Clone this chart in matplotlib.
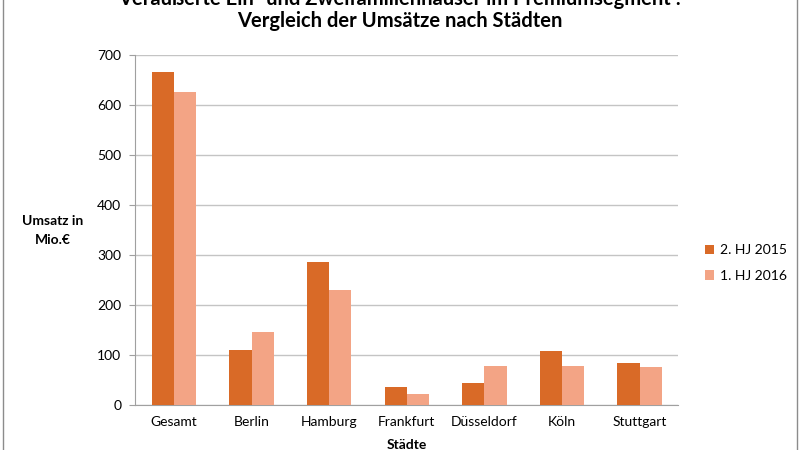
import matplotlib.pyplot as plt
import numpy as np
from matplotlib.patches import Rectangle

plt.rcParams['font.family'] = ['Lato', 'DejaVu Sans']

staedte = ['Gesamt', 'Berlin', 'Hamburg', 'Frankfurt', 'Düsseldorf', 'Köln', 'Stuttgart']
hj_2015 = [665, 110, 285, 35, 43, 107, 83]
hj_2016 = [625, 146, 229, 22, 77, 77, 75]
serien = ['2. HJ 2015', '1. HJ 2016']

c_dunkel = '#D96A27'
c_hell = '#F3A485'

fig = plt.figure(figsize=(8, 4.5), dpi=100)
ax = fig.add_axes([0.169, 0.10, 0.679, 0.778])

x = np.arange(len(staedte))
w = 0.285
ax.bar(x - w / 2, hj_2015, w, color=c_dunkel, label=serien[0], zorder=3)
ax.bar(x + w / 2, hj_2016, w, color=c_hell, label=serien[1], zorder=3)

ax.set_xlim(-0.5, len(staedte) - 0.5)
ax.set_ylim(0, 700)
ax.set_yticks(range(0, 701, 100))
ax.set_xticks(x)
ax.set_xticklabels(staedte, fontsize=10)
ax.tick_params(axis='y', labelsize=10, length=4, color='#A0A0A0', pad=6)
ax.tick_params(axis='x', length=0, pad=8)
ax.grid(axis='y', color='#C4C4C4', linewidth=1, zorder=0)

for s in ['top', 'right']:
    ax.spines[s].set_visible(False)
for s in ['left', 'bottom']:
    ax.spines[s].set_color('#A0A0A0')

# Achsentitel links, waagerecht
fig.text(0.066, 0.487, 'Umsatz in\nMio.€', ha='center', va='center',
         fontsize=10, fontweight='bold', linespacing=1.7)
ax.set_xlabel('Städte', fontsize=10, fontweight='bold', labelpad=8)

# erste Titelzeile ist im Original oben angeschnitten
fig.text(0.5, 1.003, 'Veräußerte Ein- und Zweifamilienhäuser im Premiumsegment :',
         ha='center', va='center', fontsize=14.5, fontweight='bold')
fig.text(0.5, 0.953, 'Vergleich der Umsätze nach Städten',
         ha='center', va='center', fontsize=14.5, fontweight='bold')

fig.legend(loc='upper left', bbox_to_anchor=(0.865, 0.485), frameon=False,
           fontsize=10, handlelength=0.7, handleheight=0.7, handletextpad=0.4,
           labelspacing=1.0)

fig.patches.append(Rectangle((0.004, -0.01), 0.992, 1.02, transform=fig.transFigure,
                             fill=False, edgecolor='#8C8C8C', linewidth=1))

fig.savefig('out.png', dpi=100)
